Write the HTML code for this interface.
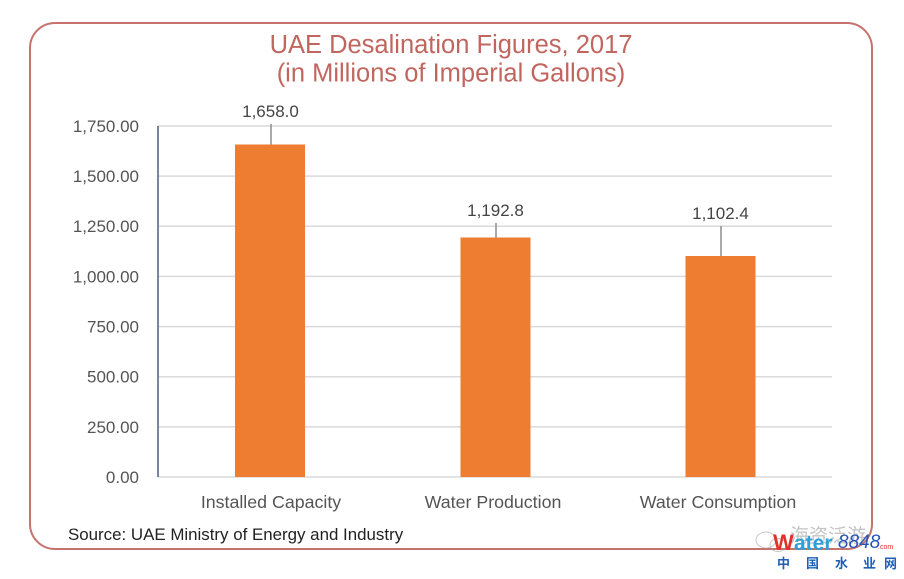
<!DOCTYPE html>
<html>
<head>
<meta charset="utf-8">
<style>
html,body{margin:0;padding:0;background:#fff;}
svg{display:block;}
text{font-family:"Liberation Sans","Noto Sans CJK SC",sans-serif;}
</style>
</head>
<body>
<svg width="904" height="579" viewBox="0 0 904 579" xmlns="http://www.w3.org/2000/svg">
  <rect x="0" y="0" width="904" height="579" fill="#fff"/>
  <!-- frame -->
  <rect x="30" y="23" width="842" height="526" rx="25" ry="25" fill="none" stroke="#c5736c" stroke-width="2"/>

  <!-- title -->
  <text x="451" y="53" text-anchor="middle" font-size="25.5" fill="#c1665f">UAE Desalination Figures, 2017</text>
  <text x="451" y="81.5" text-anchor="middle" font-size="25.5" fill="#c1665f">(in Millions of Imperial Gallons)</text>

  <!-- gridlines -->
  <g stroke="#dadada" stroke-width="1.5">
    <line x1="158" y1="126" x2="832" y2="126"/>
    <line x1="158" y1="176.1" x2="832" y2="176.1"/>
    <line x1="158" y1="226.3" x2="832" y2="226.3"/>
    <line x1="158" y1="276.4" x2="832" y2="276.4"/>
    <line x1="158" y1="326.6" x2="832" y2="326.6"/>
    <line x1="158" y1="376.7" x2="832" y2="376.7"/>
    <line x1="158" y1="426.9" x2="832" y2="426.9"/>
    <line x1="158" y1="477" x2="832" y2="477"/>
  </g>
  <!-- y axis -->
  <line x1="158" y1="126" x2="158" y2="477" stroke="#4f5f7c" stroke-width="1.5"/>

  <!-- y tick labels -->
  <g font-size="17" fill="#555" text-anchor="end">
    <text x="139" y="132">1,750.00</text>
    <text x="139" y="182">1,500.00</text>
    <text x="139" y="232">1,250.00</text>
    <text x="139" y="282.5">1,000.00</text>
    <text x="139" y="332.5">750.00</text>
    <text x="139" y="382.5">500.00</text>
    <text x="139" y="433">250.00</text>
    <text x="139" y="483">0.00</text>
  </g>

  <!-- bars -->
  <g fill="#ee7d32">
    <rect x="235" y="144.5" width="70" height="332.5"/>
    <rect x="460.5" y="237.5" width="70" height="239.5"/>
    <rect x="685.5" y="256" width="70" height="221"/>
  </g>

  <!-- leader lines -->
  <g stroke="#8c8c8c" stroke-width="1.5">
    <line x1="271" y1="124" x2="271" y2="144.5"/>
    <line x1="496" y1="223" x2="496" y2="237.5"/>
    <line x1="721" y1="226" x2="721" y2="256"/>
  </g>

  <!-- value labels -->
  <g font-size="17" fill="#444" text-anchor="middle">
    <text x="270.5" y="117">1,658.0</text>
    <text x="495.5" y="216">1,192.8</text>
    <text x="720.5" y="219">1,102.4</text>
  </g>

  <!-- category labels -->
  <g font-size="17.8" fill="#555" text-anchor="middle">
    <text x="271" y="508">Installed Capacity</text>
    <text x="493" y="508">Water Production</text>
    <text x="718" y="508">Water Consumption</text>
  </g>

  <!-- source -->
  <text x="68" y="540" font-size="16.9" fill="#222">Source: UAE Ministry of Energy and Industry</text>

  <!-- watermark -->
  <g opacity="0.55" fill="none" stroke="#9a9a9a" stroke-width="1">
    <ellipse cx="766" cy="540" rx="10" ry="8"/>
    <ellipse cx="778" cy="545" rx="8" ry="6.5"/>
  </g>
  <text x="790" y="542" font-size="19" fill="#b5b5b5" opacity="0.8">海资泛游</text>
  <text x="773" y="550" font-size="22" font-weight="bold" fill="#e0312a">W</text>
  <text x="794" y="550" font-size="21" font-weight="bold" fill="#2e9fd8">ater</text>
  <text x="838" y="548" font-size="19" font-style="italic" fill="#2456b8">8848</text>
  <text x="878" y="549" font-size="7" fill="#e0312a">.com</text>
  <text x="777" y="568" font-size="13" font-weight="bold" fill="#1e5fb8">中</text>
  <text x="806" y="568" font-size="13" font-weight="bold" fill="#1e5fb8">国</text>
  <text x="835" y="568" font-size="13" font-weight="bold" fill="#1e5fb8">水</text>
  <text x="863" y="568" font-size="13" font-weight="bold" fill="#1e5fb8">业</text>
  <text x="884" y="568" font-size="13" font-weight="bold" fill="#1e5fb8">网</text>
</svg>
</body>
</html>
